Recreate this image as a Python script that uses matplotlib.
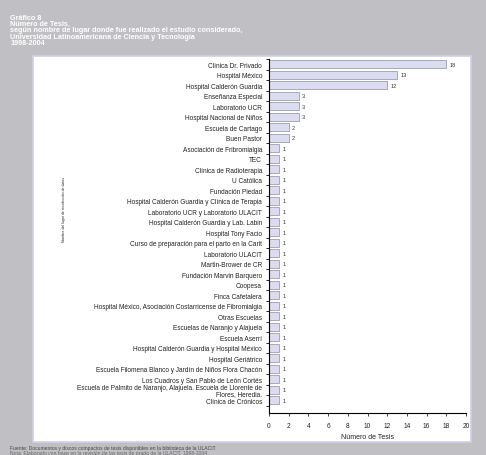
import matplotlib
matplotlib.use("Agg")
import matplotlib.pyplot as plt
from matplotlib.patches import Rectangle
import numpy as np

plt.rcParams['font.family'] = ['Liberation Sans', 'DejaVu Sans']

categories = [
    "Clínica Dr. Privado", "Hospital México", "Hospital Calderón Guardia",
    "Enseñanza Especial", "Laboratorio UCR", "Hospital Nacional de Niños",
    "Escuela de Cartago", "Buen Pastor", "Asociación de Fribromialgia", "TEC",
    "Clínica de Radioterapia", "U Católica", "Fundación Piedad",
    "Hospital Calderón Guardia y Clínica de Terapia",
    "Laboratorio UCR y Laboratorio ULACIT",
    "Hospital Calderón Guardia y Lab. Labin", "Hospital Tony Facio",
    "Curso de preparación para el parto en la Carit", "Laboratorio ULACIT",
    "Martin-Brower de CR", "Fundación Marvin Barquero", "Coopesa",
    "Finca Cafetalera",
    "Hospital México, Asociación Costarricense de Fibromialgia",
    "Otras Escuelas", "Escuelas de Naranjo y Alajuela", "Escuela Aserrí",
    "Hospital Calderón Guardia y Hospital México", "Hospital Geriátrico",
    "Escuela Filomena Blanco y Jardín de Niños Flora Chacón",
    "Los Cuadros y San Pablo de León Cortés",
    "Escuela de Palmito de Naranjo, Alajuela. Escuela de Llorente de\nFlores, Heredia.",
    "Clínica de Crónicos",
]
values = [18, 13, 12, 3, 3, 3, 2, 2] + [1] * 25
xticks = list(range(0, 21, 2))

title_lines = ("Gráfico 8\nNúmero de Tesis,\n"
               "según nombre de lugar donde fue realizado el estudio considerado,\n"
               "Universidad Latinoamericana de Ciencia y Tecnología\n1998-2004")
footer1 = "Fuente: Documentos y discos compactos de tesis disponibles en la biblioteca de la ULACIT"
footer2 = "Nota: Elaborado con base en la revisión de las tesis de grado de la ULACIT, 1998-2004"

W, H = 486, 456
fig = plt.figure(figsize=(W / 100, H / 100), dpi=100)
fig.patch.set_facecolor('#c0c0c4')

# white panel
fig.patches.append(Rectangle((33 / W, 1 - 443 / H), (471 - 33) / W, (443 - 57) / H,
                             transform=fig.transFigure, facecolor='white',
                             edgecolor='#d0d0e8', linewidth=1.2, zorder=-10))

ax = fig.add_axes([269 / W, 1 - 414 / H, (466 - 269) / W, (414 - 60) / H])
ax.set_zorder(5)
ax.set_facecolor('none')
y = np.arange(len(categories))
ax.barh(y, values, height=0.75, color='#dcdcf0', edgecolor='#a8a8bc', linewidth=0.7)
for yi, v in zip(y, values):
    ax.text(v + 0.35, yi, str(v), va='center', ha='left', fontsize=4, color='#333333')

ax.set_ylim(33.2, -0.5)
ax.set_xlim(0, 20)
ax.set_yticks(y)
ax.set_yticklabels(categories, fontsize=4.7, color='#222222')
for lab in ax.get_yticklabels():
    lab.set_linespacing(0.85)
ax.set_yticks(np.arange(-0.5, len(categories), 1), minor=True)
ax.tick_params(axis='y', which='major', length=0, pad=5)
ax.tick_params(axis='y', which='minor', length=2.5, width=0.6, direction='out')
ax.set_xticks(xticks)
ax.tick_params(axis='x', labelsize=4.7, length=2.5, width=0.6, pad=4, colors='#222222')
ax.set_xlabel("Número de Tesis", fontsize=5, color='#222222', labelpad=3)
for s in ['top', 'right']:
    ax.spines[s].set_visible(False)
for s in ['left', 'bottom']:
    ax.spines[s].set_linewidth(0.8)
    ax.spines[s].set_color('black')

fig.text(64 / W, 1 - 210 / H, "Nombre del lugar de recolección de datos", rotation=90,
         ha='center', va='center', fontsize=2.5, color='#222222')

fig.text(10 / W, 1 - 15 / H, title_lines, ha='left', va='top', fontsize=5.2,
         color='white', fontweight='bold', linespacing=0.85)

fig.text(10 / W, 1 - 449 / H, footer1, ha='left', va='center', fontsize=3.6, color='#444444')
fig.text(10 / W, 1 - 454 / H, footer2, ha='left', va='center', fontsize=3.6, color='#666666')

fig.savefig('out.png', dpi=100, facecolor=fig.get_facecolor())
